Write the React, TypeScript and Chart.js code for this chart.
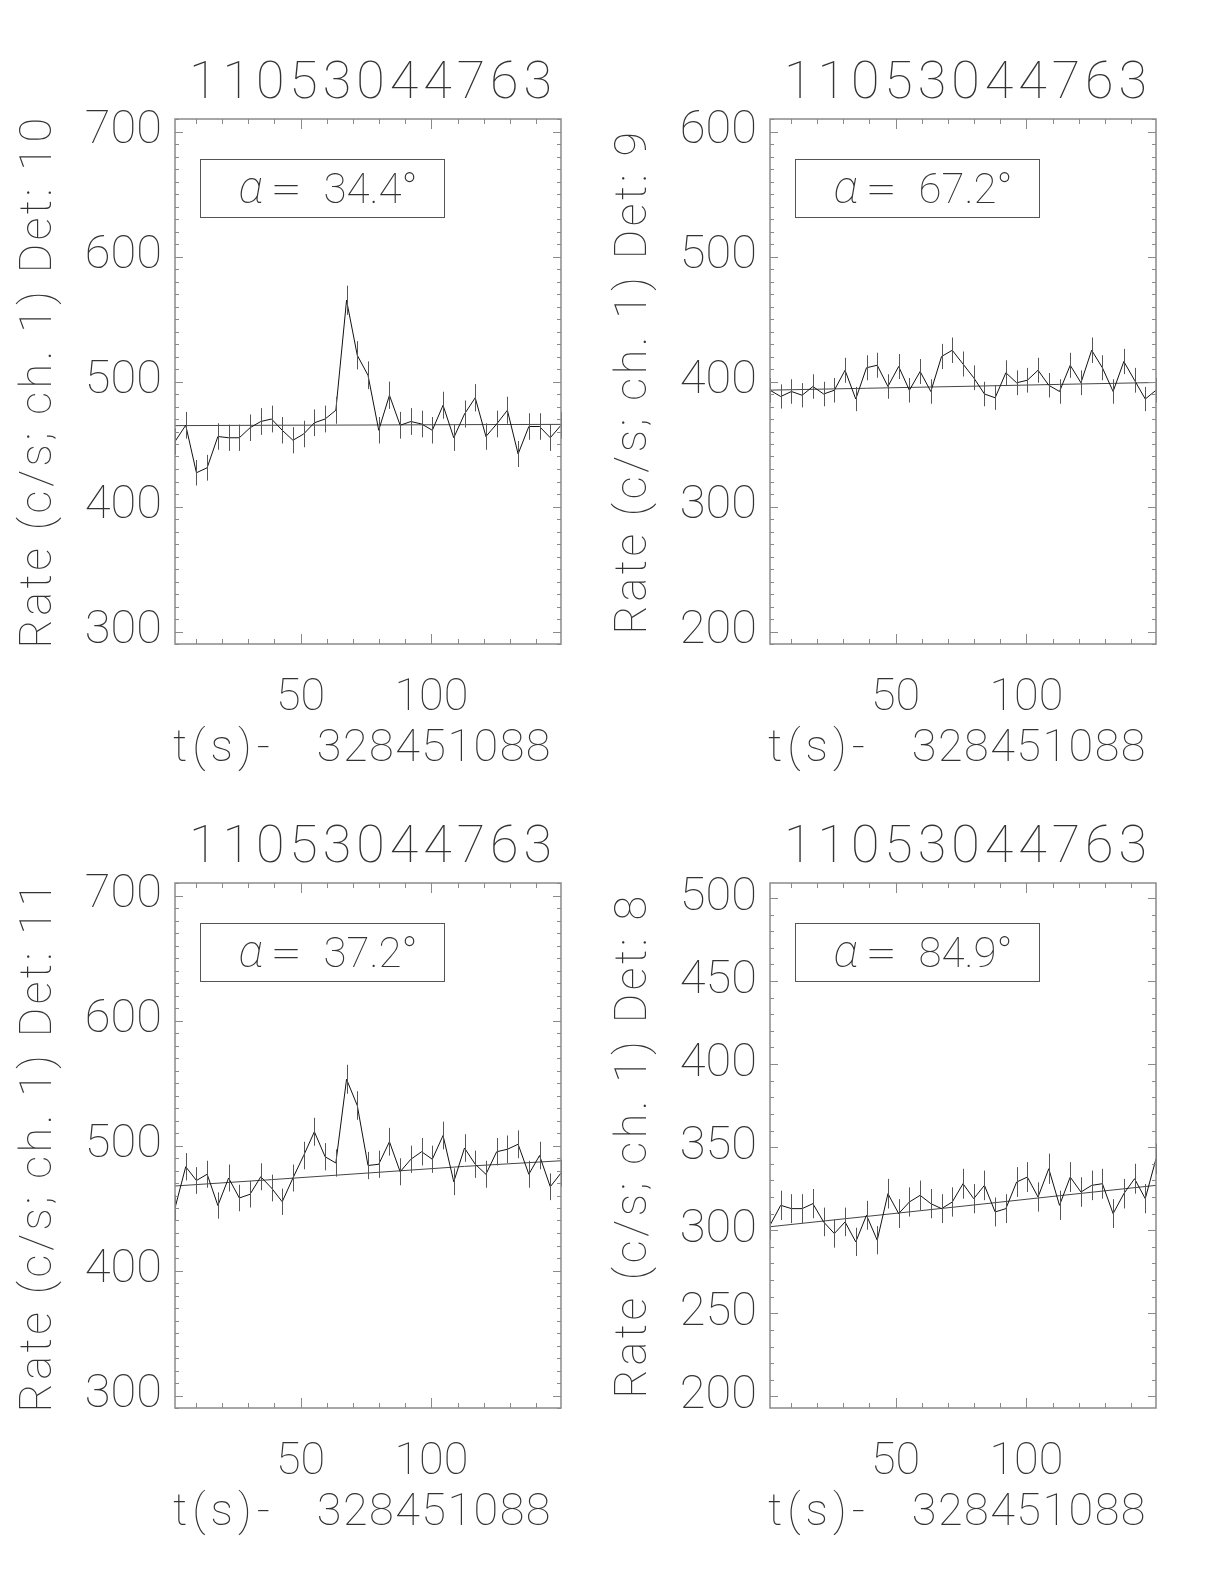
import React, { useEffect, useRef } from "react";
import { Chart, registerables } from "chart.js";

Chart.register(...registerables);

// ---------------- data ----------------
const TITLE = "11053044763";
const X_LABEL = "t(s)- 328451088";
const Y_LABEL_PREFIX = "Rate (c/s; ch. 1) Det: ";

const TIME = [
  2.048, 6.144, 10.24, 14.336, 18.432, 22.528, 26.624, 30.72, 34.816, 38.912,
  43.008, 47.104, 51.2, 55.296, 59.392, 63.488, 67.584, 71.68, 75.776, 79.872,
  83.968, 88.064, 92.16, 96.256, 100.352, 104.448, 108.544, 112.64, 116.736,
  120.832, 124.928, 129.024, 133.12, 137.216, 141.312, 145.408, 149.504,
];

const DETECTORS = ["10", "9", "11", "8"];
const ALPHAS = ["34.4", "67.2", "37.2", "84.9"];

const RATE_D10 = [452, 465, 427, 431, 456, 455, 455, 463, 468, 470, 461, 453, 458, 467, 470, 477, 565, 521, 505, 461, 489, 465, 468, 466, 461, 481, 455, 474, 487, 456, 466, 477, 442, 464, 464, 455, 465];
const ERR_D10 = [10.5, 10.7, 10.2, 10.3, 10.6, 10.5, 10.5, 10.6, 10.7, 10.7, 10.6, 10.5, 10.6, 10.7, 10.7, 10.8, 11.7, 11.3, 11.1, 10.6, 10.9, 10.7, 10.7, 10.7, 10.6, 10.8, 10.5, 10.8, 10.9, 10.6, 10.7, 10.8, 10.4, 10.6, 10.6, 10.5, 10.7];

const RATE_D9 = [393, 388, 392, 389, 396, 390, 393, 409, 386, 411, 413, 396, 412, 393, 408, 392, 420, 425, 414, 403, 390, 387, 407, 399, 401, 409, 397, 392, 413, 399, 425, 411, 392, 416, 401, 386, 393];
const ERR_D9 = [9.8, 9.7, 9.8, 9.7, 9.8, 9.8, 9.8, 10.0, 9.7, 10.0, 10.0, 9.8, 10.0, 9.8, 10.0, 9.8, 10.1, 10.2, 10.0, 9.9, 9.8, 9.7, 10.0, 9.9, 9.9, 10.0, 9.8, 9.8, 10.0, 9.9, 10.2, 10.0, 9.8, 10.1, 9.9, 9.7, 9.8];

const RATE_D11 = [450, 483, 472, 477, 452, 474, 458, 461, 475, 466, 455, 474, 492, 511, 491, 486, 553, 532, 484, 485, 503, 479, 489, 495, 489, 508, 471, 498, 485, 477, 495, 497, 501, 477, 492, 467, 478];
const ERR_D11 = [10.5, 10.9, 10.7, 10.8, 10.5, 10.8, 10.6, 10.6, 10.8, 10.7, 10.5, 10.8, 11.0, 11.2, 10.9, 10.9, 11.6, 11.4, 10.9, 10.9, 11.1, 10.8, 10.9, 11.0, 10.9, 11.1, 10.7, 11.0, 10.9, 10.8, 11.0, 11.0, 11.1, 10.8, 11.0, 10.7, 10.8];

const RATE_D8 = [303, 315, 313, 313, 316, 305, 298, 305, 293, 309, 294, 322, 310, 317, 321, 316, 313, 317, 328, 319, 327, 311, 313, 329, 332, 320, 337, 315, 332, 323, 327, 328, 310, 322, 331, 319, 343];
const ERR_D8 = [8.6, 8.8, 8.7, 8.7, 8.8, 8.6, 8.5, 8.6, 8.5, 8.7, 8.5, 8.9, 8.7, 8.8, 8.9, 8.8, 8.7, 8.8, 9.0, 8.8, 8.9, 8.7, 8.7, 9.0, 9.0, 8.8, 9.1, 8.8, 9.0, 8.9, 8.9, 9.0, 8.7, 8.9, 9.0, 8.8, 9.2];

const FIT_X = [2.048, 38.912, 75.776, 112.64, 149.504];
const FIT_D10 = [464.7, 465.0, 465.2, 465.5, 465.7];
const FIT_D9 = [393.1, 394.6, 396.1, 397.7, 399.2];
const FIT_D11 = [467.6, 472.7, 478.0, 483.3, 487.8];
const FIT_D8 = [302.1, 308.3, 314.5, 320.8, 327.0];

const Y_MIN = [290, 190, 290, 193];
const Y_MAX = [710, 610, 710, 509];
const Y_TICKS_D10 = [300, 400, 500, 600, 700];
const Y_TICKS_D9 = [200, 300, 400, 500, 600];
const Y_TICKS_D11 = [300, 400, 500, 600, 700];
const Y_TICKS_D8 = [200, 250, 300, 350, 400, 450, 500];
const Y_MAJOR_STEP = [100, 100, 100, 50];
const Y_MINOR_STEP = 10;
const X_TICKS = [50, 100];
const X_MAJOR_STEP = 50;
const X_MINOR_STEP = 10;

const RATES = [RATE_D10, RATE_D9, RATE_D11, RATE_D8];
const ERRS = [ERR_D10, ERR_D9, ERR_D11, ERR_D8];
const FITS = [FIT_D10, FIT_D9, FIT_D11, FIT_D8];
const Y_TICKS = [Y_TICKS_D10, Y_TICKS_D9, Y_TICKS_D11, Y_TICKS_D8];

// ---------------- style ----------------
const FONT = "Roboto, 'DejaVu Sans', sans-serif";
const W = "100";
const TEXT_COLOR = "#333";
const AXIS_COLOR = "#8a8a8a";
const CANVAS_W = 600;
const CANVAS_H = 780;
const PLOT_LEFT = 175;
const PLOT_TOP = 119;
const PLOT_W = 386;
const PLOT_H = 525;
const POSITIONS = [
  { left: 0, top: 0 },
  { left: 595, top: 0 },
  { left: 0, top: 764 },
  { left: 595, top: 764 },
];

const decorPlugin = {
  id: "idlDecor",
  afterDatasetsDraw(chart: any, _args: any, opts: any) {
    const { ctx, scales } = chart;
    const xs = scales.x;
    const ys = scales.y;
    const ds = chart.data.datasets[0];
    const errs: number[] = opts.errors;
    ctx.save();
    ctx.strokeStyle = "#555";
    ctx.lineWidth = 1;
    ds.data.forEach((p: any, i: number) => {
      const x = Math.round(xs.getPixelForValue(p.x)) + 0.5;
      ctx.beginPath();
      ctx.moveTo(x, ys.getPixelForValue(p.y - errs[i]));
      ctx.lineTo(x, ys.getPixelForValue(p.y + errs[i]));
      ctx.stroke();
    });
    ctx.restore();
  },
  afterDraw(chart: any, _args: any, opts: any) {
    const { ctx, chartArea: a, scales } = chart;
    const xs = scales.x;
    const ys = scales.y;
    ctx.save();
    // frame
    ctx.strokeStyle = AXIS_COLOR;
    ctx.lineWidth = 1.5;
    ctx.strokeRect(a.left, a.top, a.right - a.left, a.bottom - a.top);
    ctx.lineWidth = 1;
    const seg = (x1: number, y1: number, x2: number, y2: number) => {
      ctx.beginPath();
      ctx.moveTo(x1, y1);
      ctx.lineTo(x2, y2);
      ctx.stroke();
    };
    for (let v = Math.ceil(xs.min / X_MINOR_STEP) * X_MINOR_STEP; v <= xs.max; v += X_MINOR_STEP) {
      const px = Math.round(xs.getPixelForValue(v)) + 0.5;
      const len = v % X_MAJOR_STEP === 0 ? 10 : 5;
      seg(px, a.bottom, px, a.bottom - len);
      seg(px, a.top, px, a.top + len);
    }
    for (let v = Math.ceil(ys.min / Y_MINOR_STEP) * Y_MINOR_STEP; v <= ys.max; v += Y_MINOR_STEP) {
      const py = Math.round(ys.getPixelForValue(v)) + 0.5;
      const len = v % opts.majorStep === 0 ? 8 : 4;
      seg(a.left, py, a.left + len, py);
      seg(a.right, py, a.right - len, py);
    }
    // texts
    ctx.fillStyle = TEXT_COLOR;
    ctx.textAlign = "center";
    ctx.textBaseline = "alphabetic";
    const cx = (a.left + a.right) / 2;
    const cy = (a.top + a.bottom) / 2;
    // title
    ctx.font = `${W} 52px ${FONT}`;
    (ctx as any).letterSpacing = "5px";
    ctx.fillText(TITLE, cx + 5, a.top - 21);
    // x label: split at the space for the wider gap of the original
    ctx.font = `${W} 45px ${FONT}`;
    const parts = X_LABEL.split(" ");
    ctx.textAlign = "left";
    (ctx as any).letterSpacing = "5px";
    ctx.fillText(parts[0], a.left - 2, a.bottom + 117);
    ctx.textAlign = "right";
    (ctx as any).letterSpacing = "1.5px";
    ctx.fillText(parts[1], a.left + 377, a.bottom + 117);
    // y label
    ctx.textAlign = "center";
    (ctx as any).letterSpacing = "3.5px";
    ctx.save();
    ctx.translate(a.left - 124, cy);
    ctx.rotate(-Math.PI / 2);
    ctx.fillText(Y_LABEL_PREFIX + opts.det, 0, 0);
    ctx.restore();
    (ctx as any).letterSpacing = "0px";
    // alpha box
    ctx.strokeStyle = "#555";
    ctx.lineWidth = 1;
    const bx = a.left + 25.5;
    const by = a.top + 40.5;
    const bw = 244;
    const bh = 58;
    ctx.strokeRect(bx, by, bw, bh);
    const ty = by + 43;
    ctx.textAlign = "left";
    ctx.font = `italic ${W} 46px ${FONT}`;
    ctx.fillText("α", bx + 38, ty);
    ctx.font = `${W} 42px ${FONT}`;
    ctx.save();
    ctx.translate(bx + 70, ty);
    ctx.scale(1.35, 1);
    ctx.fillText("=", 0, 0);
    ctx.restore();
    ctx.fillText(opts.alpha + "°", bx + 123, ty);
    ctx.restore();
  },
};

function Panel({ idx }: { idx: number }) {
  const ref = useRef<HTMLCanvasElement | null>(null);
  useEffect(() => {
    if (!ref.current) return;
    const rateData = TIME.map((t, i) => ({ x: t, y: RATES[idx][i] }));
    const fitData = FIT_X.map((t, i) => ({ x: t, y: FITS[idx][i] }));
    const yTicks = Y_TICKS[idx];
    const chart = new Chart(ref.current, {
      type: "line",
      data: {
        datasets: [
          {
            data: rateData,
            borderColor: "#111",
            borderWidth: 1,
            pointRadius: 0,
            tension: 0,
          },
          {
            data: fitData,
            borderColor: "#444",
            borderWidth: 1,
            pointRadius: 0,
            tension: 0,
          },
        ],
      },
      options: {
        animation: false,
        responsive: false,
        maintainAspectRatio: false,
        devicePixelRatio: 1,
        layout: {
          padding: { left: 0, top: PLOT_TOP, right: CANVAS_W - PLOT_LEFT - PLOT_W, bottom: 0 },
        },
        plugins: {
          legend: { display: false },
          tooltip: { enabled: false },
          idlDecor: {
            det: DETECTORS[idx],
            alpha: ALPHAS[idx],
            errors: ERRS[idx],
            majorStep: Y_MAJOR_STEP[idx],
          },
        } as any,
        scales: {
          x: {
            type: "linear",
            min: TIME[0],
            max: TIME[TIME.length - 1],
            grid: { display: false, drawTicks: false },
            border: { display: false },
            afterBuildTicks: (s: any) => {
              s.ticks = X_TICKS.map((v) => ({ value: v }));
            },
            afterFit: (s: any) => {
              s.height = CANVAS_H - PLOT_TOP - PLOT_H;
            },
            ticks: {
              autoSkip: false,
              maxRotation: 0,
              padding: 28,
              color: TEXT_COLOR,
              font: { family: FONT, size: 45, weight: W as any },
            },
          },
          y: {
            type: "linear",
            min: Y_MIN[idx],
            max: Y_MAX[idx],
            grid: { display: false, drawTicks: false },
            border: { display: false },
            afterBuildTicks: (s: any) => {
              s.ticks = yTicks.map((v) => ({ value: v }));
            },
            afterFit: (s: any) => {
              s.width = PLOT_LEFT;
            },
            ticks: {
              autoSkip: false,
              padding: 13,
              color: TEXT_COLOR,
              font: { family: FONT, size: 47, weight: W as any },
            },
          },
        },
      },
      plugins: [decorPlugin],
    });
    return () => chart.destroy();
  }, [idx]);
  const pos = POSITIONS[idx];
  return (
    <canvas
      ref={ref}
      width={CANVAS_W}
      height={CANVAS_H}
      style={{ position: "absolute", left: pos.left, top: pos.top, width: CANVAS_W, height: CANVAS_H }}
    />
  );
}

export default function App() {
  return (
    <div style={{ position: "absolute", left: 0, top: 0, width: 1224, height: 1584, background: "#fff" }}>
      {[0, 1, 2, 3].map((i) => (
        <Panel key={i} idx={i} />
      ))}
    </div>
  );
}
